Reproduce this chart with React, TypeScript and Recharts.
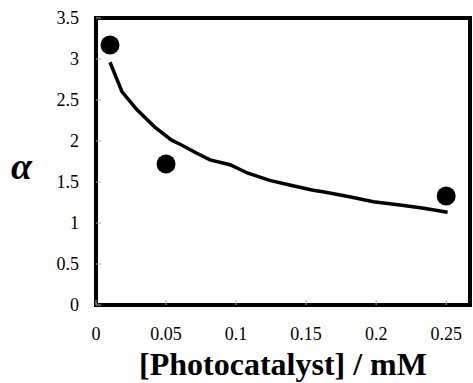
import {
  ComposedChart,
  Line,
  Scatter,
  XAxis,
  YAxis,
  ReferenceArea,
} from 'recharts';

// measured points
const pointX = [0.01, 0.05, 0.25];
const pointAlpha = [3.17, 1.72, 1.33];

// fitted curve
const curveX = [
  0.01, 0.0186, 0.0293, 0.042, 0.054, 0.06, 0.072, 0.0814, 0.0957, 0.108,
  0.124, 0.139, 0.155, 0.162, 0.181, 0.198, 0.217, 0.234, 0.251,
];
const curveAlpha = [
  2.96, 2.6, 2.38, 2.17, 2.01, 1.96, 1.85, 1.77, 1.71, 1.61, 1.52, 1.46, 1.4,
  1.38, 1.32, 1.26, 1.22, 1.18, 1.13,
];

const xTicks = [0, 0.05, 0.1, 0.15, 0.2, 0.25];
const yTicks = [0, 0.5, 1, 1.5, 2, 2.5, 3, 3.5];

const points = pointX.map((x, i) => ({ x, y: pointAlpha[i] }));
const curve = curveX.map((x, i) => ({ x, y: curveAlpha[i] }));

const serif = '"Liberation Serif", "Times New Roman", serif';

const XTick = (props: any) => (
  <text
    x={props.payload.coordinate}
    y={340}
    textAnchor="middle"
    style={{ fontFamily: serif, fontSize: 18, fill: '#000' }}
  >
    {props.payload.value}
  </text>
);

const YTick = (props: any) => (
  <text
    x={79}
    y={props.payload.coordinate + 6}
    textAnchor="end"
    style={{ fontFamily: serif, fontSize: 18, fill: '#000' }}
  >
    {props.payload.value}
  </text>
);

const Dot = (props: any) => <circle cx={props.cx} cy={props.cy} r={9.5} fill="#000" />;

export default function App() {
  return (
    <div style={{ position: 'absolute', left: 0, top: 0, background: '#fff' }}>
      <ComposedChart
        width={473}
        height={383}
        margin={{ top: 18, right: 3, bottom: 0, left: 0 }}
      >
        <XAxis
          type="number"
          dataKey="x"
          domain={[0, 0.267]}
          ticks={xTicks}
          height={78}
          axisLine={false}
          tickLine={{ stroke: '#aaa', strokeWidth: 1 }}
          tickSize={-5}
          tick={XTick}
          label={{
            value: '[Photocatalyst] / mM',
            position: 'insideBottom',
            offset: 8,
            style: { fill: '#000', fontSize: 32, fontWeight: 'bold', fontFamily: serif },
          }}
        />
        <YAxis
          type="number"
          dataKey="y"
          domain={[0, 3.5]}
          ticks={yTicks}
          width={96}
          axisLine={false}
          tickLine={{ stroke: '#aaa', strokeWidth: 1 }}
          tickSize={-5}
          tick={YTick}
          label={{
            value: 'α',
            position: 'insideLeft',
            offset: 11,
            dy: 4,
            style: {
              fill: '#000',
              fontSize: 38,
              fontWeight: 'bold',
              fontStyle: 'italic',
              fontFamily: serif,
            },
          }}
        />
        <ReferenceArea
          x1={0}
          x2={0.267}
          y1={0}
          y2={3.5}
          fill="none"
          stroke="#000"
          strokeWidth={4}
          ifOverflow="visible"
        />
        <Line
          data={curve}
          dataKey="y"
          type="linear"
          stroke="#000"
          strokeWidth={3.5}
          dot={false}
          activeDot={false}
          isAnimationActive={false}
        />
        <Scatter data={points} dataKey="y" shape={Dot} isAnimationActive={false} />
      </ComposedChart>
    </div>
  );
}
